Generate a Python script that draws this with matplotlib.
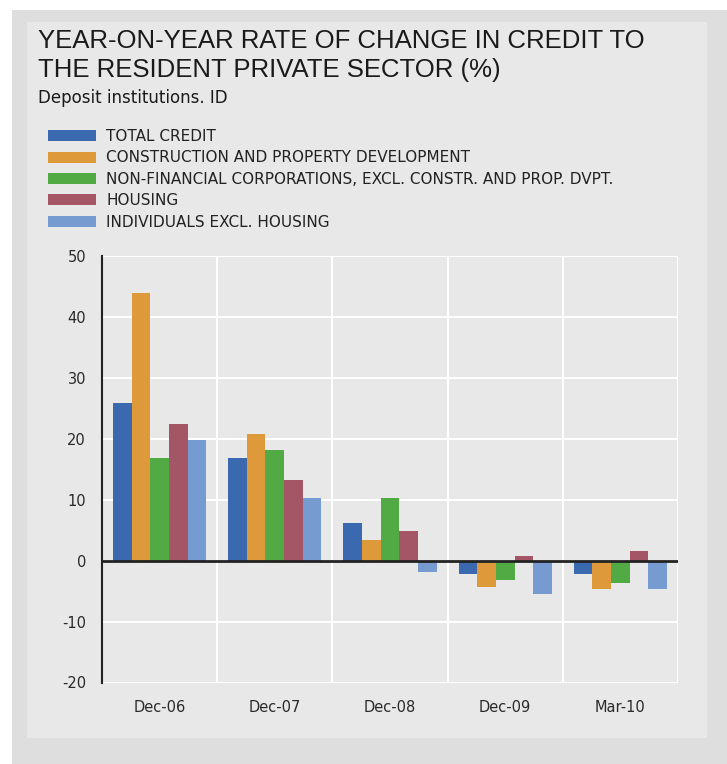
import matplotlib
matplotlib.use('Agg')
import matplotlib.pyplot as plt
import numpy as np
from matplotlib.patches import Rectangle

plt.rcParams['font.family'] = ['DejaVu Sans']
plt.rcParams['axes.unicode_minus'] = False

periods = ['Dec-06', 'Dec-07', 'Dec-08', 'Dec-09', 'Mar-10']
series_names = ['TOTAL CREDIT',
                'CONSTRUCTION AND PROPERTY DEVELOPMENT',
                'NON-FINANCIAL CORPORATIONS, EXCL. CONSTR. AND PROP. DVPT.',
                'HOUSING',
                'INDIVIDUALS EXCL. HOUSING']
total_credit = [25.8, 16.8, 6.1, -2.2, -2.2]
construction = [44.0, 20.8, 3.4, -4.3, -4.6]
non_financial = [16.8, 18.1, 10.3, -3.2, -3.7]
housing = [22.5, 13.3, 4.9, 0.7, 1.6]
individuals = [19.8, 10.3, -1.9, -5.5, -4.6]
colors = ['#3b69b0', '#de9a3a', '#52aa44', '#a45566', '#769bd1']

fig = plt.figure(figsize=(7.27, 7.64), dpi=100)
fig.patch.set_facecolor('white')
# outer and inner grey panels
fig.patches.append(Rectangle((12 / 727, 0), 1, (764 - 10) / 764, transform=fig.transFigure,
                             facecolor='#dedede', edgecolor='none', zorder=-2))
fig.patches.append(Rectangle((27 / 727, (764 - 738) / 764), (707 - 27) / 727, (738 - 22) / 764,
                             transform=fig.transFigure, facecolor='#e8e8e8', edgecolor='none', zorder=-1))

ax = fig.add_axes([102 / 727, (764 - 682.5) / 764, (678 - 102) / 727, (682.5 - 256) / 764])
ax.set_facecolor('#e8e8e8')

data = [total_credit, construction, non_financial, housing, individuals]
x = np.arange(len(periods))
w = 0.162
bars = []
for i, vals in enumerate(data):
    b = ax.bar(x + (i - 2) * w, vals, w, color=colors[i], label=series_names[i], zorder=3)
    bars.append(b)

ax.set_xlim(-0.5, len(periods) - 0.5)
ax.set_ylim(-20, 50)
ax.set_yticks(range(-20, 51, 10))
ax.set_xticks(x)
ax.set_xticklabels(periods)
for v in np.arange(-0.5, len(periods), 1.0):
    ax.axvline(v, color='white', lw=1.5, zorder=1)
ax.yaxis.grid(True, color='white', lw=1.5, zorder=1)
ax.axhline(0, color='#222222', lw=2, zorder=4)
for s in ['top', 'right', 'bottom']:
    ax.spines[s].set_visible(False)
ax.spines['left'].set_color('#222222')
ax.spines['left'].set_linewidth(1.5)
ax.tick_params(axis='both', length=0, labelsize=10.5, colors='#2a2a2a')
ax.tick_params(axis='x', pad=12.5)
ax.tick_params(axis='y', pad=11.5)

fig.text(38 / 727, 1 - 29 / 764, 'YEAR-ON-YEAR RATE OF CHANGE IN CREDIT TO\nTHE RESIDENT PRIVATE SECTOR (%)',
         fontsize=18.5, family='Liberation Sans', color='#1a1a1a', va='top', ha='left',
         linespacing=1.25)
fig.text(38 / 727, 1 - 89 / 764, 'Deposit institutions. ID', fontsize=12, color='#1a1a1a',
         va='top', ha='left')

fig.legend(handles=bars, labels=series_names, loc='upper left',
           bbox_to_anchor=(47.5 / 727, 1 - 129 / 764), frameon=False, fontsize=11,
           handlelength=3.2, handleheight=0.72, labelspacing=0.42, handletextpad=0.65,
           borderaxespad=0, borderpad=0, labelcolor='#222222')

fig.savefig('out.png', dpi=100)
